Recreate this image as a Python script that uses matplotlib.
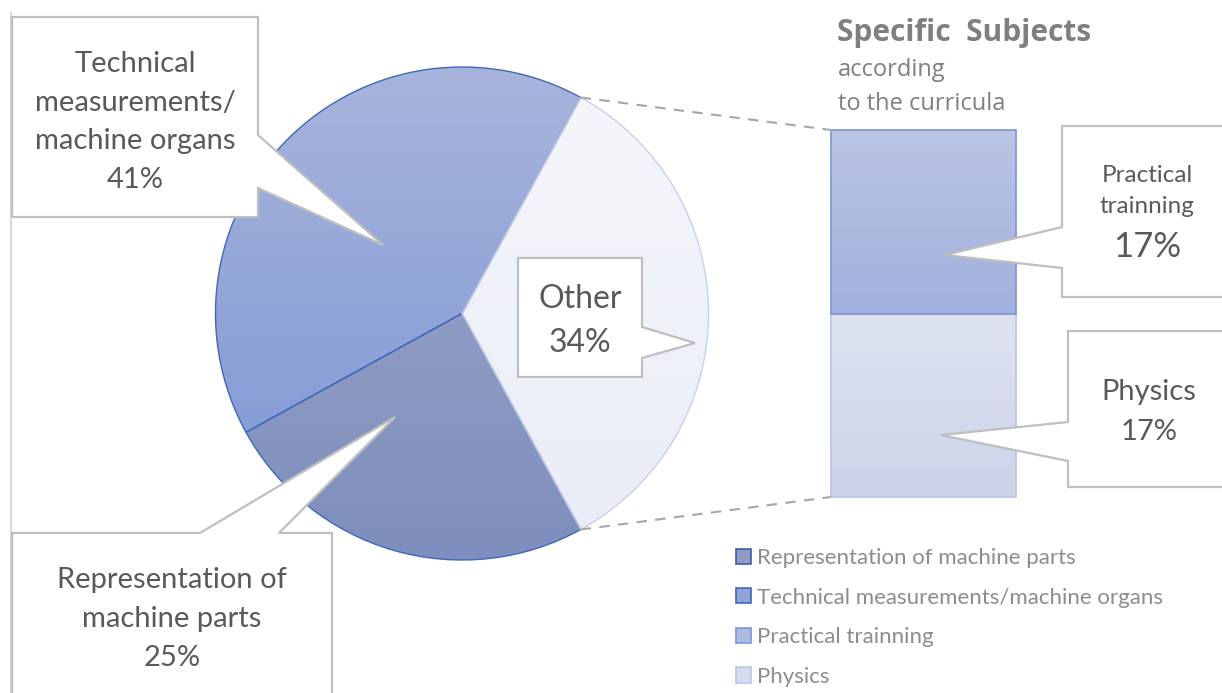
import numpy as np
import matplotlib.pyplot as plt
from matplotlib.patches import Polygon, PathPatch
from matplotlib.colors import LinearSegmentedColormap

# Chart data
pie_names = ['Other', 'Technical measurements/machine organs', 'Representation of machine parts']
pie_labels = ['Other', 'Technical\nmeasurements/\nmachine organs', 'Representation of\nmachine parts']
pie_values = [34, 41, 25]
bar_names = ['Physics', 'Practical trainning']
bar_labels = ['Physics', 'Practical\ntrainning']
bar_values = [17, 17]
legend_names = ['Representation of machine parts', 'Technical measurements/machine organs',
                'Practical trainning', 'Physics']

W, H = 1222, 693
plt.rcParams['font.family'] = ['Lato', 'DejaVu Sans']
TXT = '#595959'
BOX = '#bfbfbf'


def P(x, y):
    # pixel position (from top-left) -> data coordinates of the main axes
    return (x, H - y)


def grad_fill(ax, patch, c_top, c_bot, extent, z):
    cmap = LinearSegmentedColormap.from_list('g', [c_bot, c_top])
    g = np.linspace(0, 1, 256).reshape(-1, 1)
    im = ax.imshow(g, cmap=cmap, extent=extent, origin='lower', aspect='auto', zorder=z)
    im.set_clip_path(patch)
    return im


fig = plt.figure(figsize=(W / 100, H / 100), dpi=100)

# ---- stacked bar (own axes so the scale is the value scale)
bx0, bx1, by0, by1 = 831, 1016, 130, 497
bax = fig.add_axes([bx0 / W, 1 - by1 / H, (bx1 - bx0) / W, (by1 - by0) / H])
bax.set_zorder(0)
bar_top = ['#dfe3f0', '#bbc5e4']
bar_bot = ['#ccd3ea', '#a1b0dc']
bar_mid = ['#d6dbed', '#aebbe0']
bar_edge = ['#b9c4e5', '#7b96d4']
bottom = 0
bar_patches = []
for i, v in enumerate(bar_values):
    b = bax.bar(0, v, bottom=bottom, width=1, color=bar_mid[i], linewidth=0, zorder=1)[0]
    grad_fill(bax, b, bar_top[i], bar_bot[i], (-0.5, 0.5, bottom, bottom + v), 1.5)
    bar_patches.append(b)
    bottom += v
for i in [0, 1]:
    b = bar_patches[i]
    bax.add_patch(plt.Rectangle(b.get_xy(), b.get_width(), b.get_height(), fill=False,
                                ec=bar_edge[i], lw=1.2, zorder=2, clip_on=False))
bax.set_xlim(-0.5, 0.5)
bax.set_ylim(0, sum(bar_values))
bax.axis('off')

# ---- main axes in pixel units (pie, callouts, texts)
ax = fig.add_axes([0, 0, 1, 1])
ax.set_zorder(1)
ax.patch.set_visible(False)

cx, cy, R = 462, 313.5, 246.5
start = -pie_values[0] / 100 * 180
pie_top = ['#f6f7fb', '#a7b4dc', '#9fa9c9']
pie_bot = ['#e9ecf7', '#7b95d3', '#7e8ebd']
pie_mid = ['#eff1f9', '#91a4d7', '#8e9bc3']
pie_edge = ['#c9d1ea', '#3f68bd', '#3f68bd']
wedges, _ = ax.pie(pie_values, center=P(cx, cy), radius=R, startangle=start,
                   counterclock=True, colors=pie_mid, frame=True,
                   wedgeprops=dict(linewidth=0, zorder=1))
for i, w in enumerate(wedges):
    ext = (cx - R, cx + R, H - cy - R, H - cy + R)
    grad_fill(ax, w, pie_top[i], pie_bot[i], ext, 1.5)
for i in [1, 2, 0]:
    ax.add_patch(PathPatch(wedges[i].get_path(), fill=False, ec=pie_edge[i], lw=1.0, zorder=2))

# connector lines from the "Other" slice to the bar
a = np.deg2rad(pie_values[0] / 100 * 180)
ax.plot([cx + R * np.cos(a), bx0], [H - cy + R * np.sin(a), H - by0],
        ls=(0, (5, 4)), color='#a6a6a6', lw=1.5, zorder=2)
ax.plot([cx + R * np.cos(a), bx0], [H - cy - R * np.sin(a), H - by1],
        ls=(0, (5, 4)), color='#a6a6a6', lw=1.5, zorder=2)

# ---- callout boxes
callouts = [
    [(12, 17), (258, 17), (258, 135), (383, 245), (258, 188), (258, 217), (12, 217)],
    [(12, 533), (200, 533), (395, 417), (279, 533), (332, 533), (332, 700), (12, 700)],
    [(518, 258), (642, 258), (642, 327), (695, 343), (642, 358), (642, 377), (518, 377)],
    [(1062, 126), (1235, 126), (1235, 297), (1062, 297), (1062, 268), (945, 255), (1062, 227)],
    [(1068, 331), (1235, 331), (1235, 487), (1068, 487), (1068, 461), (941, 435), (1068, 422)],
]
for pts in callouts:
    ax.add_patch(Polygon([P(x, y) for x, y in pts], closed=True, fc='white', ec=BOX,
                         lw=1.6, zorder=5, joinstyle='miter'))
ax.plot([11, 11], [H - 13, 0], color='#dadada', lw=1.6, zorder=4)

ax.text(*P(135, 122), f'{pie_labels[1]}\n{pie_values[1]}%', ha='center', va='center',
        fontsize=21, color=TXT, linespacing=1.6, zorder=6)
ax.text(*P(172, 619), f'{pie_labels[2]}\n{pie_values[2]}%', ha='center', va='center',
        fontsize=21, color=TXT, linespacing=1.6, zorder=6)
ax.text(*P(580, 321), f'{pie_labels[0]}\n{pie_values[0]}%', ha='center', va='center',
        fontsize=23, color=TXT, linespacing=1.59, zorder=6)
ax.text(*P(1147, 191), bar_labels[1], ha='center', va='center',
        fontsize=17.5, color=TXT, linespacing=1.55, zorder=6)
ax.text(*P(1147, 247), f'{bar_values[1]}%', ha='center', va='center',
        fontsize=25, color=TXT, zorder=6)
ax.text(*P(1149, 412), f'{bar_labels[0]}\n{bar_values[0]}%', ha='center', va='center',
        fontsize=21, color=TXT, linespacing=1.62, zorder=6)

# title
ax.text(*P(837, 33), 'Specific  Subjects', ha='left', va='center', fontsize=21.5,
        fontweight='bold', color='#7f7f7f', family=['Open Sans', 'DejaVu Sans'])
ax.text(*P(838, 87), 'according\nto the curricula', ha='left', va='center', fontsize=17,
        color='#7f7f7f', linespacing=1.5, family=['Open Sans', 'DejaVu Sans'])

# legend
handles = [wedges[2], wedges[1], bar_patches[1], bar_patches[0]]
edge_for = ['#3f5ea8', '#3f68bd', '#7b96d4', '#b9c4e5']
proxies = []
for h, e in zip(handles, edge_for):
    proxies.append(plt.Rectangle((0, 0), 1, 1, fc=h.get_facecolor(), ec=e, lw=1.2))
leg = ax.legend(proxies, legend_names, loc='upper left', bbox_to_anchor=(736 / W, 1 - 548 / H),
                bbox_transform=fig.transFigure, frameon=False, fontsize=16,
                labelcolor='#8c8c8c', handlelength=0.68, handleheight=0.68,
                handletextpad=0.25, labelspacing=0.88, borderaxespad=0, borderpad=0)

ax.set_xlim(0, W)
ax.set_ylim(0, H)
ax.axis('off')

fig.savefig('out.png', dpi=100)
